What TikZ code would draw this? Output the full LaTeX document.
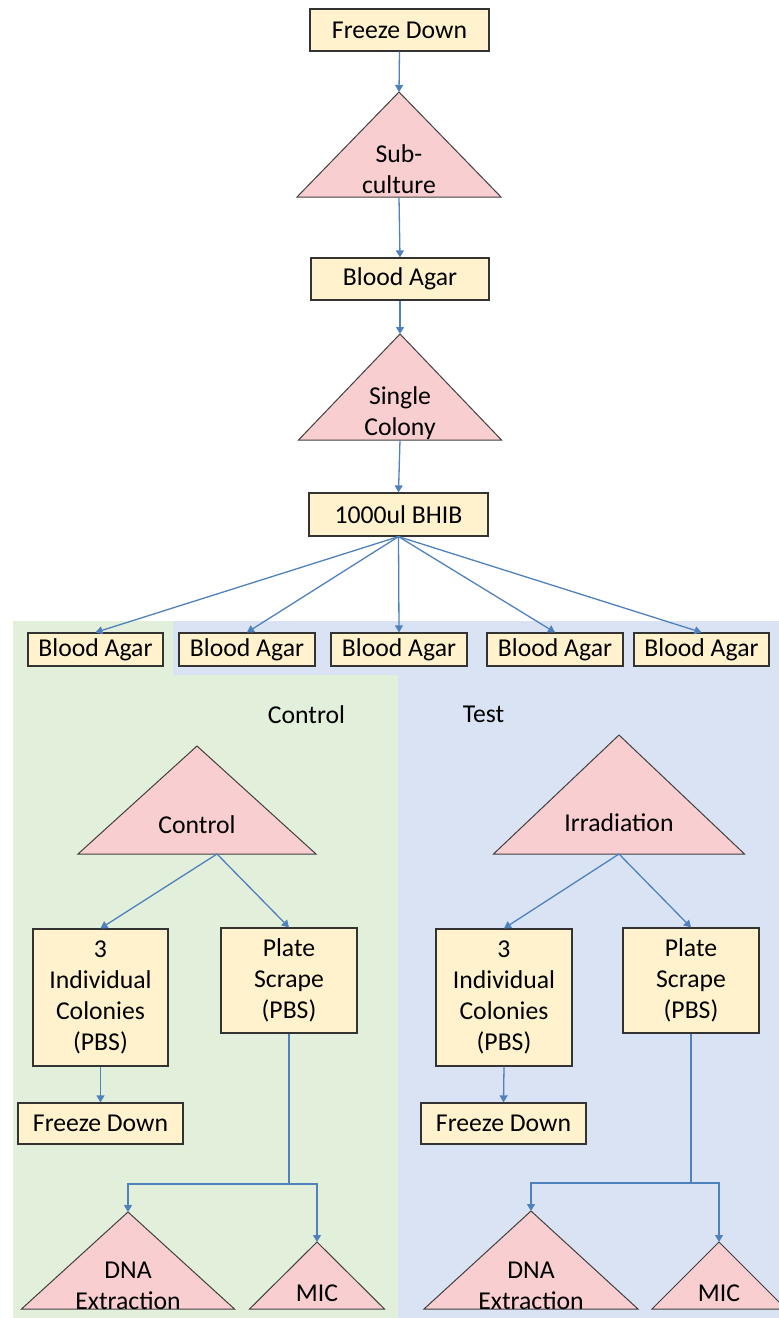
\documentclass[tikz,border=0pt]{standalone}
\usepackage{fontspec}
\setmainfont{Carlito}
\usetikzlibrary{arrows.meta}
\definecolor{boxfill}{RGB}{255,242,204}
\definecolor{trifill}{RGB}{248,206,208}
\definecolor{ctrlbg}{RGB}{226,239,218}
\definecolor{testbg}{RGB}{218,227,243}
\definecolor{linkblue}{RGB}{79,129,189}
\newcommand{\stagetri}[5]{%
	\filldraw[tri] (#2,#3) -- ++(-#4,#5) -- ++(2*#4,0) -- cycle;
	\coordinate (#1-top) at (#2,#3);
	\coordinate (#1-base) at (#2,#3+#5);
}

\begin{document}
\begin{tikzpicture}[x=1pt,y=-1pt,
		every node/.style={font=\fontsize{25.7}{31}\selectfont},
		box/.style={draw=black!80, line width=1.2pt, fill=boxfill, align=center, inner sep=2pt},
		tri/.style={fill=trifill, draw=black!75, line width=1pt},
		tritext/.style={align=center},
		link/.style={draw=linkblue, line width=1.3pt, -{Triangle[length=7pt,width=8pt]}}]
			\useasboundingbox (0,0) rectangle (779,1318);
			\clip (0,0) rectangle (779,1318);
			
			% Backgrounds
			\fill[ctrlbg] (13,621) -- (173,621) -- (173,675) -- (398,675) -- (398,1318) -- (13,1318) -- cycle;
			\fill[testbg] (173,621) -- (779,621) -- (779,1318) -- (398,1318) -- (398,675) -- (173,675) -- cycle;
			
			% Top chain
			\node[box, minimum width=179pt, minimum height=42pt] (fd0) at (399.5,30) {Freeze Down};
			\stagetri{sub}{399}{92}{102}{105}
			\node[tritext] (sub) at (399,169) {Sub-\\culture};
			\node[box, minimum width=178pt, minimum height=42pt] (ba0) at (400,279) {Blood Agar};
			\stagetri{sc}{400}{334}{101.5}{106}
			\node[tritext] (sc) at (400,413) {Single\\Colony};
			\node[box, minimum width=179pt, minimum height=43pt] (bhib) at (398.5,514.5) {1000ul BHIB};
			
			\draw[link] (fd0.south) -- (sub-top);
			\draw[link] (sub-base) -- (ba0.north);
			\draw[link] (ba0.south) -- (sc-top);
			\draw[link] (sc-base) -- (bhib.north);
			
			% Plates
			\node[box, minimum width=135pt, minimum height=33pt] (ba1) at (95.5,649.5) {Blood Agar};
			\node[box, minimum width=136pt, minimum height=33pt] (ba2) at (247,649.5) {Blood Agar};
			\node[box, minimum width=136pt, minimum height=33pt] (ba3) at (399,649.5) {Blood Agar};
			\node[box, minimum width=136pt, minimum height=33pt] (ba4) at (555,649.5) {Blood Agar};
			\node[box, minimum width=135pt, minimum height=33pt] (ba5) at (701.5,649.5) {Blood Agar};
			\draw[link] (bhib.south) -- (ba1.north);
			\draw[link] (bhib.south) -- (ba2.north);
			\draw[link] (bhib.south) -- (ba3.north);
			\draw[link] (bhib.south) -- (ba4.north);
			\draw[link] (bhib.south) -- (ba5.north);
			
			% Control arm
			\node (ctllabel) at (306.5,715) {Control};
			\stagetri{ctl}{197}{746}{119}{108}
			\node[tritext] (ctl) at (197,825) {Control};
			\coordinate (ctl-out) at (217,854);
			\node[box, minimum width=135pt, minimum height=137pt] (ic1) at (100.5,997.5) {3\\Individual\\Colonies\\(PBS)};
			\node[box, minimum width=136pt, minimum height=105pt] (ps1) at (289,980.5) {Plate\\Scrape\\(PBS)};
			\node[box, minimum width=165pt, minimum height=41pt] (fd1) at (100.5,1123.5) {Freeze Down};
			\stagetri{dna1}{128}{1212}{106.5}{97}
			\node[tritext] (dna1) at (128,1286) {DNA\\Extraction};
			\stagetri{mic1}{317}{1242}{67.5}{67}
			\node[tritext] (mic1) at (317,1293) {MIC};
			\coordinate (split1) at (289,1184);
			
			\draw[link] (ctl-out) -- (ic1.north);
			\draw[link] (ctl-out) -- (ps1.north);
			\draw[link] (ic1.south) -- (fd1.north);
			\draw[link, -] (ps1.south) -- (split1);
			\draw[link] (split1) -| (dna1-top);
			\draw[link] (split1) -| (mic1-top);
			
			% Test arm
			\node (testlabel) at (483.5,714) {Test};
			\stagetri{irr}{619}{735}{125.5}{119}
			\node[tritext] (irr) at (619,823) {Irradiation};
			\node[box, minimum width=136pt, minimum height=137pt] (ic2) at (504,997.5) {3\\Individual\\Colonies\\(PBS)};
			\node[box, minimum width=136pt, minimum height=105pt] (ps2) at (691,980.5) {Plate\\Scrape\\(PBS)};
			\node[box, minimum width=165pt, minimum height=41pt] (fd2) at (503.5,1123.5) {Freeze Down};
			\stagetri{dna2}{531}{1211}{107}{98}
			\node[tritext] (dna2) at (531,1286) {DNA\\Extraction};
			\stagetri{mic2}{719}{1242}{67}{67}
			\node[tritext] (mic2) at (719,1293) {MIC};
			\coordinate (split2) at (691,1183);
			
			\draw[link] (irr-base) -- (ic2.north);
			\draw[link] (irr-base) -- (ps2.north);
			\draw[link] (ic2.south) -- (fd2.north);
			\draw[link, -] (ps2.south) -- (split2);
			\draw[link] (split2) -| (dna2-top);
			\draw[link] (split2) -| (mic2-top);
		\end{tikzpicture}
\end{document}
